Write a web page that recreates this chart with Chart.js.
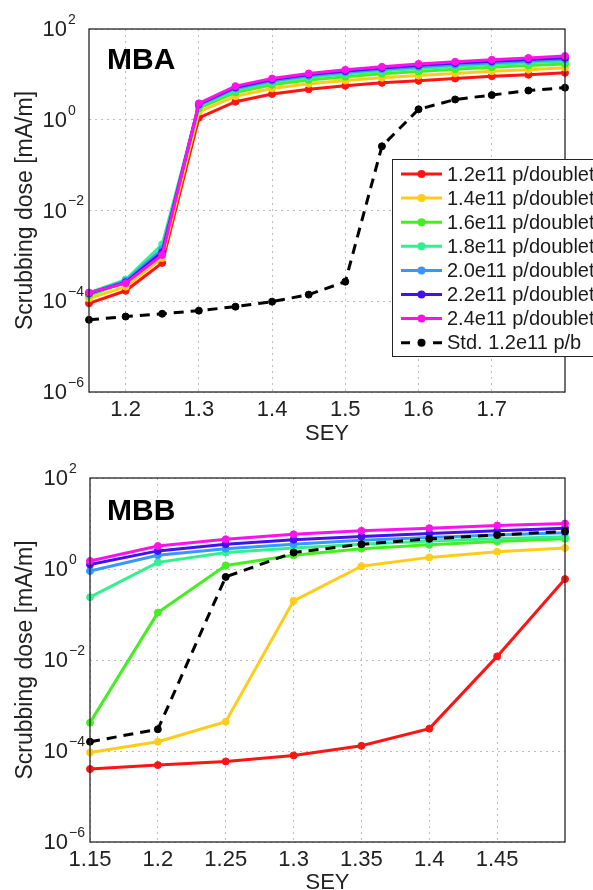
<!DOCTYPE html>
<html>
<head>
<meta charset="utf-8">
<script src="https://cdn.jsdelivr.net/npm/chart.js@4"></script>
<style>
  html, body { margin: 0; padding: 0; width: 593px; height: 890px; overflow: hidden; background: #fff; }
  canvas { position: absolute; left: 0; }
  #mba { top: 0; }
  #mbb { top: 440px; }
</style>
</head>
<body>
<canvas id="mba" width="593" height="450" style="width:593px;height:450px"></canvas>
<canvas id="mbb" width="593" height="460" style="width:593px;height:460px"></canvas>
<script>
// ---- data ----
const seriesLabels = ['1.2e11 p/doublet', '1.4e11 p/doublet', '1.6e11 p/doublet', '1.8e11 p/doublet',
  '2.0e11 p/doublet', '2.2e11 p/doublet', '2.4e11 p/doublet', 'Std. 1.2e11 p/b'];
const seriesColors = ['#ff1414', '#ffcc1a', '#44ee22', '#33f08c', '#3399ff', '#4411ee', '#ff11ee', '#000000'];

const mbaSey = [1.15, 1.2, 1.25, 1.3, 1.35, 1.4, 1.45, 1.5, 1.55, 1.6, 1.65, 1.7, 1.75, 1.8];
const mbaRed = [9e-5, 1.7e-4, 7e-4, 1.1, 2.5, 3.7, 4.7, 5.6, 6.5, 7.2, 8.1, 9.1, 9.8, 10.8];
const mbaYellow = [1.15e-4, 2.1e-4, 9e-4, 1.5, 3.3, 4.9, 6.2, 7.3, 8.4, 9.4, 10.5, 11.7, 12.7, 14];
const mbaGreen = [1.35e-4, 2.6e-4, 1.3e-3, 1.8, 4.0, 5.9, 7.5, 8.9, 10.3, 11.6, 13, 14.3, 15.6, 17];
const mbaSeafoam = [1.55e-4, 3.0e-4, 1.8e-3, 2.0, 4.5, 6.7, 8.6, 10.2, 11.9, 13.4, 15, 16.5, 18, 19.5];
const mbaBlue = [1.5e-4, 2.8e-4, 1.4e-3, 2.1, 4.9, 7.2, 9.3, 11.1, 13, 14.7, 16.4, 18.1, 19.8, 21.5];
const mbaPurple = [1.5e-4, 2.6e-4, 1.2e-3, 2.2, 5.2, 7.7, 9.9, 11.9, 13.9, 15.8, 17.7, 19.5, 21.3, 23.2];
const mbaMagenta = [1.55e-4, 2.5e-4, 1.05e-3, 2.3, 5.5, 8.1, 10.5, 12.6, 14.7, 17, 19, 21, 23, 25.5];
const mbaStd = [3.9e-5, 4.6e-5, 5.3e-5, 6.2e-5, 7.6e-5, 9.8e-5, 1.4e-4, 2.7e-4, 0.26, 1.7, 2.8, 3.5, 4.4, 5.1];

const mbbSey = [1.15, 1.2, 1.25, 1.3, 1.35, 1.4, 1.45, 1.5];
const mbbRed = [4e-5, 4.9e-5, 5.9e-5, 8e-5, 1.3e-4, 3.1e-4, 0.012, 0.6];
const mbbYellow = [9.3e-5, 1.6e-4, 4.4e-4, 0.2, 1.15, 1.8, 2.4, 2.9];
const mbbGreen = [4.2e-4, 0.11, 1.2, 2.0, 2.8, 3.4, 4.0, 4.6];
const mbbSeafoam = [0.24, 1.4, 2.3, 2.9, 3.5, 4.1, 4.6, 5.1];
const mbbBlue = [0.9, 2.0, 2.8, 3.5, 4.3, 4.9, 5.6, 6.3];
const mbbPurple = [1.25, 2.5, 3.5, 4.4, 5.2, 6.0, 6.9, 7.9];
const mbbMagenta = [1.5, 3.2, 4.5, 5.8, 6.9, 7.9, 9.0, 10];
const mbbStd = [1.6e-4, 3e-4, 0.67, 2.3, 3.5, 4.6, 5.6, 6.7];

const yTicks = [1e-6, 1e-4, 1e-2, 1, 100];
const mbaXTicks = [1.2, 1.3, 1.4, 1.5, 1.6, 1.7];
const mbbXTicks = [1.15, 1.2, 1.25, 1.3, 1.35, 1.4, 1.45];

const FONT = '"Liberation Sans", Arial, Helvetica, sans-serif';
Chart.defaults.font.family = FONT;
Chart.defaults.color = '#222';

function makeDatasets(xs, all) {
  return all.map((vals, i) => {
    const isStd = i === all.length - 1;
    return {
      label: seriesLabels[i],
      data: xs.map((x, j) => ({ x: x, y: vals[j] })),
      borderColor: seriesColors[i],
      backgroundColor: seriesColors[i],
      pointBackgroundColor: seriesColors[i],
      pointBorderColor: seriesColors[i],
      borderWidth: 3,
      borderDash: isStd ? [10, 7] : [],
      pointRadius: 3.5,
      pointBorderWidth: 1,
      tension: 0,
      clip: false,
      order: isStd ? 0 : all.length - 1 - i
    };
  });
}

// draws box, superscript y tick labels, panel name and (optionally) the legend
function panelPlugin(name, nameY, tenRight, withLegend) {
  return {
    id: 'panel_' + name,
    afterDraw(chart) {
      const ctx = chart.ctx;
      const a = chart.chartArea;
      ctx.save();
      ctx.strokeStyle = '#262626';
      ctx.lineWidth = 1.3;
      ctx.setLineDash([]);
      ctx.strokeRect(a.left, a.top, a.right - a.left, a.bottom - a.top);

      const ys = chart.scales.y;
      ctx.fillStyle = '#222';
      yTicks.forEach(v => {
        const py = ys.getPixelForValue(v);
        const e = Math.round(Math.log10(v));
        ctx.font = '22px ' + FONT;
        ctx.textAlign = 'right';
        ctx.textBaseline = 'middle';
        ctx.fillText('10', tenRight, py + 1);
        ctx.font = '14px ' + FONT;
        ctx.textAlign = 'left';
        ctx.fillText(e < 0 ? '\u2212' + Math.abs(e) : String(e), tenRight + 1, py - 9);
      });

      ctx.font = 'bold 30px ' + FONT;
      ctx.textAlign = 'left';
      ctx.textBaseline = 'alphabetic';
      ctx.fillStyle = '#000';
      ctx.fillText(name, 107, nameY);

      if (withLegend) {
        const bx = 392.5, by = 159.5;
        ctx.fillStyle = '#fff';
        ctx.fillRect(bx, by, 260, 197);
        ctx.strokeStyle = '#222';
        ctx.lineWidth = 1;
        ctx.strokeRect(bx, by, 260, 197);
        chart.data.datasets.forEach((ds, i) => {
          const ly = 174 + i * 24.1;
          ctx.strokeStyle = ds.borderColor;
          ctx.lineWidth = 3;
          ctx.setLineDash(ds.borderDash.length ? [9, 23] : []);
          ctx.beginPath();
          ctx.moveTo(401, ly);
          ctx.lineTo(442, ly);
          ctx.stroke();
          ctx.setLineDash([]);
          ctx.fillStyle = ds.borderColor;
          ctx.beginPath();
          ctx.arc(421.5, ly, 4, 0, Math.PI * 2);
          ctx.fill();
          ctx.fillStyle = '#1a1a1a';
          ctx.font = '20px ' + FONT;
          ctx.textBaseline = 'middle';
          ctx.fillText(ds.label, 447, ly + 1);
        });
      }
      ctx.restore();
    }
  };
}

function makeChart(id, xs, all, xMin, xMax, xTicks, opts) {
  return new Chart(document.getElementById(id), {
    type: 'line',
    data: { datasets: makeDatasets(xs, all) },
    options: {
      responsive: false,
      animation: false,
      layout: { padding: { left: 0, right: 28, top: opts.top, bottom: opts.bottom } },
      plugins: { legend: { display: false }, tooltip: { enabled: false } },
      scales: {
        x: {
          type: 'linear',
          min: xMin,
          max: xMax,
          afterBuildTicks: sc => { sc.ticks = xTicks.map(v => ({ value: v })); },
          afterFit: sc => { sc.height = opts.xHeight; },
          ticks: {
            font: { size: 22, lineHeight: 1 },
            color: '#222',
            padding: 7,
            maxRotation: 0,
            autoSkip: false,
            callback: v => String(Math.round(v * 100) / 100)
          },
          grid: { color: '#bdbdbd', lineWidth: 1, drawTicks: false },
          border: { display: false, dash: [2, 4] },
          title: { display: true, text: 'SEY', font: { size: 22 }, color: '#222', padding: 0 }
        },
        y: {
          type: 'logarithmic',
          min: 1e-6,
          max: 100,
          afterBuildTicks: sc => { sc.ticks = yTicks.map(v => ({ value: v })); },
          afterFit: sc => { sc.width = opts.yWidth; },
          ticks: { display: false },
          grid: { color: '#bdbdbd', lineWidth: 1, drawTicks: false },
          border: { display: false, dash: [2, 4] },
          title: {
            display: true, text: 'Scrubbing dose [mA/m]', font: { size: 23 }, color: '#222',
            padding: { top: 12, bottom: 0 }
          }
        }
      }
    },
    plugins: [panelPlugin(opts.name, opts.nameY, opts.tenRight, opts.legend)]
  });
}

makeChart('mba', mbaSey,
  [mbaRed, mbaYellow, mbaGreen, mbaSeafoam, mbaBlue, mbaPurple, mbaMagenta, mbaStd],
  1.15, 1.8, mbaXTicks,
  { top: 29, bottom: 3, xHeight: 55, yWidth: 89, name: 'MBA', nameY: 69, tenRight: 67, legend: true });

makeChart('mbb', mbbSey,
  [mbbRed, mbbYellow, mbbGreen, mbbSeafoam, mbbBlue, mbbPurple, mbbMagenta, mbbStd],
  1.15, 1.5, mbbXTicks,
  { top: 38, bottom: 4, xHeight: 54, yWidth: 90, name: 'MBB', nameY: 80, tenRight: 68, legend: false });
</script>
</body>
</html>
